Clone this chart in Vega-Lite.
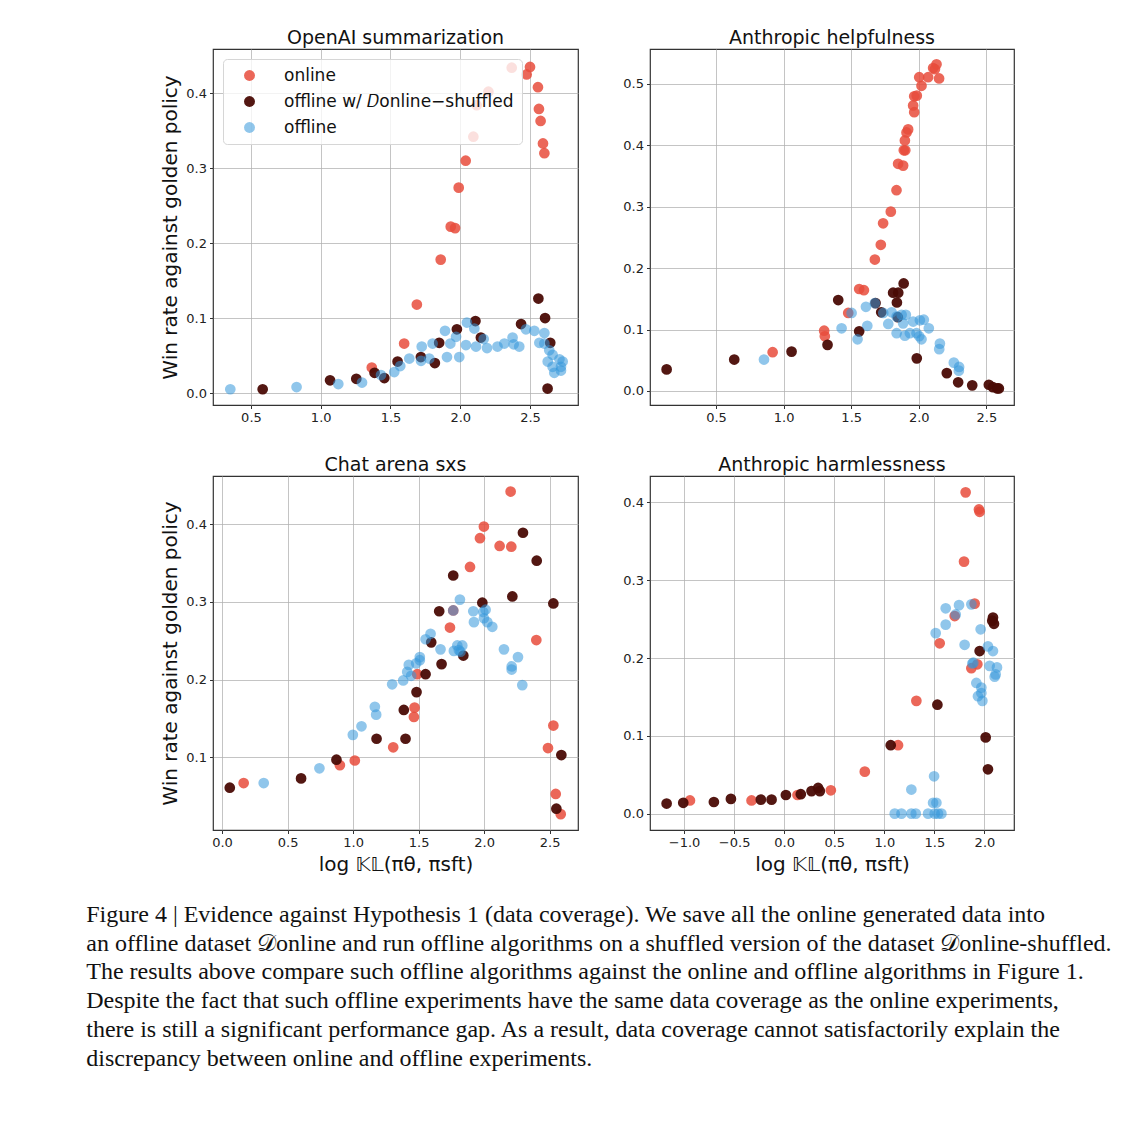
{
  "$schema": "https://vega.github.io/schema/vega-lite/v6.json",
  "background": "white",
  "padding": {"left": 86, "top": 28, "right": 5, "bottom": 5},
  "config": {
    "view": {"stroke": "#333333", "strokeWidth": 1.2},
    "axis": {
      "labelFont": "DejaVu Sans", "labelFontSize": 13, "labelColor": "#222222",
      "titleFont": "DejaVu Sans", "titleFontSize": 20, "titleFontWeight": "normal", "titleColor": "#111111",
      "grid": true, "gridColor": "#b0b0b0", "gridOpacity": 0.75, "gridWidth": 1,
      "domain": false, "tickColor": "#333333", "tickSize": 3.5, "labelPadding": 3, "titlePadding": 5
    },
    "title": {"font": "DejaVu Sans", "fontSize": 19, "fontWeight": "normal", "color": "#111111", "offset": 1},
    "legend": {"labelFont": "DejaVu Sans"}
  },
  "title": {
    "text": [
      "Figure 4 | Evidence against Hypothesis 1 (data coverage). We save all the online generated data into",
      "an offline dataset 𝒟online and run offline algorithms on a shuffled version of the dataset 𝒟online-shuffled.",
      "The results above compare such offline algorithms against the online and offline algorithms in Figure 1.",
      "Despite the fact that such offline experiments have the same data coverage as the online experiments,",
      "there is still a significant performance gap. As a result, data coverage cannot satisfactorily explain the",
      "discrepancy between online and offline experiments."
    ],
    "orient": "bottom", "anchor": "start", "frame": "bounds",
    "font": "Liberation Serif", "fontSize": 24, "fontWeight": "normal", "color": "#111111",
    "lineHeight": 28.7, "offset": 28, "dx": -74
  },
  "data": {"values": [
    {"p":1,"s":"online","x":1.366,"y":0.034},{"p":1,"s":"online","x":1.598,"y":0.066},{"p":1,"s":"online","x":1.689,"y":0.118},{"p":1,"s":"online","x":1.860,"y":0.178},{"p":1,"s":"online","x":1.932,"y":0.222},{"p":1,"s":"online","x":1.963,"y":0.220},{"p":1,"s":"online","x":1.989,"y":0.274},{"p":1,"s":"online","x":2.039,"y":0.310},{"p":1,"s":"online","x":2.094,"y":0.342},{"p":1,"s":"online","x":2.118,"y":0.384},{"p":1,"s":"online","x":2.202,"y":0.402},{"p":1,"s":"online","x":2.369,"y":0.434},{"p":1,"s":"online","x":2.476,"y":0.425},{"p":1,"s":"online","x":2.500,"y":0.435},{"p":1,"s":"online","x":2.557,"y":0.408},{"p":1,"s":"online","x":2.564,"y":0.379},{"p":1,"s":"online","x":2.576,"y":0.363},{"p":1,"s":"online","x":2.593,"y":0.333},{"p":1,"s":"online","x":2.603,"y":0.320},
    {"p":2,"s":"online","x":0.919,"y":0.063},{"p":2,"s":"online","x":1.300,"y":0.098},{"p":2,"s":"online","x":1.305,"y":0.089},{"p":2,"s":"online","x":1.478,"y":0.127},{"p":2,"s":"online","x":1.559,"y":0.166},{"p":2,"s":"online","x":1.594,"y":0.164},{"p":2,"s":"online","x":1.675,"y":0.214},{"p":2,"s":"online","x":1.719,"y":0.238},{"p":2,"s":"online","x":1.736,"y":0.273},{"p":2,"s":"online","x":1.793,"y":0.292},{"p":2,"s":"online","x":1.835,"y":0.327},{"p":2,"s":"online","x":1.847,"y":0.370},{"p":2,"s":"online","x":1.884,"y":0.367},{"p":2,"s":"online","x":1.889,"y":0.392},{"p":2,"s":"online","x":1.900,"y":0.392},{"p":2,"s":"online","x":1.897,"y":0.408},{"p":2,"s":"online","x":1.909,"y":0.421},{"p":2,"s":"online","x":1.921,"y":0.426},{"p":2,"s":"online","x":1.966,"y":0.454},{"p":2,"s":"online","x":1.958,"y":0.465},{"p":2,"s":"online","x":1.966,"y":0.480},{"p":2,"s":"online","x":1.985,"y":0.481},{"p":2,"s":"online","x":2.020,"y":0.497},{"p":2,"s":"online","x":2.003,"y":0.511},{"p":2,"s":"online","x":2.069,"y":0.511},{"p":2,"s":"online","x":2.106,"y":0.526},{"p":2,"s":"online","x":2.131,"y":0.532},{"p":2,"s":"online","x":2.119,"y":0.524},{"p":2,"s":"online","x":2.150,"y":0.509},
    {"p":3,"s":"online","x":0.165,"y":0.067},{"p":3,"s":"online","x":0.899,"y":0.090},{"p":3,"s":"online","x":1.013,"y":0.096},{"p":3,"s":"online","x":1.306,"y":0.113},{"p":3,"s":"online","x":1.464,"y":0.152},{"p":3,"s":"online","x":1.469,"y":0.164},{"p":3,"s":"online","x":1.489,"y":0.207},{"p":3,"s":"online","x":1.739,"y":0.267},{"p":3,"s":"online","x":1.764,"y":0.289},{"p":3,"s":"online","x":1.892,"y":0.345},{"p":3,"s":"online","x":1.968,"y":0.382},{"p":3,"s":"online","x":1.998,"y":0.397},{"p":3,"s":"online","x":2.118,"y":0.372},{"p":3,"s":"online","x":2.207,"y":0.371},{"p":3,"s":"online","x":2.202,"y":0.442},{"p":3,"s":"online","x":2.398,"y":0.251},{"p":3,"s":"online","x":2.528,"y":0.141},{"p":3,"s":"online","x":2.487,"y":0.112},{"p":3,"s":"online","x":2.546,"y":0.053},{"p":3,"s":"online","x":2.584,"y":0.027},
    {"p":4,"s":"online","x":-0.941,"y":0.017},{"p":4,"s":"online","x":-0.326,"y":0.017},{"p":4,"s":"online","x":0.133,"y":0.024},{"p":4,"s":"online","x":0.466,"y":0.030},{"p":4,"s":"online","x":0.805,"y":0.054},{"p":4,"s":"online","x":1.137,"y":0.088},{"p":4,"s":"online","x":1.320,"y":0.145},{"p":4,"s":"online","x":1.553,"y":0.219},{"p":4,"s":"online","x":1.703,"y":0.254},{"p":4,"s":"online","x":1.796,"y":0.324},{"p":4,"s":"online","x":1.812,"y":0.413},{"p":4,"s":"online","x":1.945,"y":0.391},{"p":4,"s":"online","x":1.952,"y":0.388},{"p":4,"s":"online","x":1.902,"y":0.270},{"p":4,"s":"online","x":1.869,"y":0.187},{"p":4,"s":"online","x":1.929,"y":0.192},
    {"p":1,"s":"shuffled","x":0.584,"y":0.005},{"p":1,"s":"shuffled","x":1.067,"y":0.017},{"p":1,"s":"shuffled","x":1.255,"y":0.019},{"p":1,"s":"shuffled","x":1.386,"y":0.027},{"p":1,"s":"shuffled","x":1.456,"y":0.020},{"p":1,"s":"shuffled","x":1.551,"y":0.042},{"p":1,"s":"shuffled","x":1.718,"y":0.048},{"p":1,"s":"shuffled","x":1.818,"y":0.040},{"p":1,"s":"shuffled","x":1.849,"y":0.067},{"p":1,"s":"shuffled","x":1.976,"y":0.085},{"p":1,"s":"shuffled","x":2.109,"y":0.096},{"p":1,"s":"shuffled","x":2.148,"y":0.074},{"p":1,"s":"shuffled","x":2.436,"y":0.092},{"p":1,"s":"shuffled","x":2.560,"y":0.126},{"p":1,"s":"shuffled","x":2.608,"y":0.100},{"p":1,"s":"shuffled","x":2.645,"y":0.067},{"p":1,"s":"shuffled","x":2.626,"y":0.006},
    {"p":2,"s":"shuffled","x":0.135,"y":0.035},{"p":2,"s":"shuffled","x":0.635,"y":0.051},{"p":2,"s":"shuffled","x":1.059,"y":0.064},{"p":2,"s":"shuffled","x":1.325,"y":0.075},{"p":2,"s":"shuffled","x":1.404,"y":0.148},{"p":2,"s":"shuffled","x":1.559,"y":0.097},{"p":2,"s":"shuffled","x":1.680,"y":0.143},{"p":2,"s":"shuffled","x":1.722,"y":0.128},{"p":2,"s":"shuffled","x":1.810,"y":0.160},{"p":2,"s":"shuffled","x":1.848,"y":0.160},{"p":2,"s":"shuffled","x":1.888,"y":0.175},{"p":2,"s":"shuffled","x":1.838,"y":0.144},{"p":2,"s":"shuffled","x":1.845,"y":0.120},{"p":2,"s":"shuffled","x":1.985,"y":0.053},{"p":2,"s":"shuffled","x":2.207,"y":0.029},{"p":2,"s":"shuffled","x":2.291,"y":0.014},{"p":2,"s":"shuffled","x":2.395,"y":0.009},{"p":2,"s":"shuffled","x":2.518,"y":0.010},{"p":2,"s":"shuffled","x":2.548,"y":0.006},{"p":2,"s":"shuffled","x":2.580,"y":0.004},{"p":2,"s":"shuffled","x":2.592,"y":0.004},
    {"p":3,"s":"shuffled","x":0.059,"y":0.061},{"p":3,"s":"shuffled","x":0.603,"y":0.073},{"p":3,"s":"shuffled","x":0.873,"y":0.097},{"p":3,"s":"shuffled","x":1.179,"y":0.124},{"p":3,"s":"shuffled","x":1.387,"y":0.161},{"p":3,"s":"shuffled","x":1.400,"y":0.124},{"p":3,"s":"shuffled","x":1.484,"y":0.184},{"p":3,"s":"shuffled","x":1.553,"y":0.207},{"p":3,"s":"shuffled","x":1.596,"y":0.248},{"p":3,"s":"shuffled","x":1.657,"y":0.288},{"p":3,"s":"shuffled","x":1.675,"y":0.220},{"p":3,"s":"shuffled","x":1.764,"y":0.334},{"p":3,"s":"shuffled","x":1.841,"y":0.231},{"p":3,"s":"shuffled","x":1.986,"y":0.299},{"p":3,"s":"shuffled","x":2.215,"y":0.307},{"p":3,"s":"shuffled","x":2.296,"y":0.389},{"p":3,"s":"shuffled","x":2.401,"y":0.353},{"p":3,"s":"shuffled","x":2.528,"y":0.298},{"p":3,"s":"shuffled","x":2.589,"y":0.103},{"p":3,"s":"shuffled","x":2.551,"y":0.034},
    {"p":4,"s":"shuffled","x":-1.174,"y":0.013},{"p":4,"s":"shuffled","x":-1.008,"y":0.014},{"p":4,"s":"shuffled","x":-0.702,"y":0.015},{"p":4,"s":"shuffled","x":-0.532,"y":0.019},{"p":4,"s":"shuffled","x":-0.233,"y":0.018},{"p":4,"s":"shuffled","x":-0.126,"y":0.018},{"p":4,"s":"shuffled","x":0.017,"y":0.024},{"p":4,"s":"shuffled","x":0.166,"y":0.025},{"p":4,"s":"shuffled","x":0.273,"y":0.029},{"p":4,"s":"shuffled","x":0.339,"y":0.033},{"p":4,"s":"shuffled","x":0.356,"y":0.029},{"p":4,"s":"shuffled","x":1.064,"y":0.088},{"p":4,"s":"shuffled","x":1.530,"y":0.140},{"p":4,"s":"shuffled","x":1.952,"y":0.209},{"p":4,"s":"shuffled","x":2.085,"y":0.252},{"p":4,"s":"shuffled","x":2.095,"y":0.244},{"p":4,"s":"shuffled","x":2.078,"y":0.248},{"p":4,"s":"shuffled","x":2.012,"y":0.098},{"p":4,"s":"shuffled","x":2.035,"y":0.057},
    {"p":1,"s":"offline","x":0.352,"y":0.005},{"p":1,"s":"offline","x":0.827,"y":0.008},{"p":1,"s":"offline","x":1.126,"y":0.012},{"p":1,"s":"offline","x":1.296,"y":0.014},{"p":1,"s":"offline","x":1.432,"y":0.024},{"p":1,"s":"offline","x":1.527,"y":0.028},{"p":1,"s":"offline","x":1.570,"y":0.036},{"p":1,"s":"offline","x":1.635,"y":0.046},{"p":1,"s":"offline","x":1.719,"y":0.043},{"p":1,"s":"offline","x":1.724,"y":0.062},{"p":1,"s":"offline","x":1.778,"y":0.046},{"p":1,"s":"offline","x":1.802,"y":0.066},{"p":1,"s":"offline","x":1.891,"y":0.083},{"p":1,"s":"offline","x":1.929,"y":0.066},{"p":1,"s":"offline","x":1.905,"y":0.048},{"p":1,"s":"offline","x":1.993,"y":0.048},{"p":1,"s":"offline","x":1.970,"y":0.075},{"p":1,"s":"offline","x":2.048,"y":0.094},{"p":1,"s":"offline","x":2.101,"y":0.086},{"p":1,"s":"offline","x":2.041,"y":0.064},{"p":1,"s":"offline","x":2.113,"y":0.062},{"p":1,"s":"offline","x":2.168,"y":0.072},{"p":1,"s":"offline","x":2.192,"y":0.060},{"p":1,"s":"offline","x":2.267,"y":0.062},{"p":1,"s":"offline","x":2.316,"y":0.066},{"p":1,"s":"offline","x":2.375,"y":0.074},{"p":1,"s":"offline","x":2.383,"y":0.065},{"p":1,"s":"offline","x":2.423,"y":0.062},{"p":1,"s":"offline","x":2.471,"y":0.085},{"p":1,"s":"offline","x":2.531,"y":0.083},{"p":1,"s":"offline","x":2.603,"y":0.080},{"p":1,"s":"offline","x":2.567,"y":0.067},{"p":1,"s":"offline","x":2.603,"y":0.066},{"p":1,"s":"offline","x":2.638,"y":0.057},{"p":1,"s":"offline","x":2.662,"y":0.051},{"p":1,"s":"offline","x":2.627,"y":0.042},{"p":1,"s":"offline","x":2.711,"y":0.045},{"p":1,"s":"offline","x":2.662,"y":0.035},{"p":1,"s":"offline","x":2.722,"y":0.035},{"p":1,"s":"offline","x":2.734,"y":0.042},{"p":1,"s":"offline","x":2.674,"y":0.027},{"p":1,"s":"offline","x":2.722,"y":0.030},
    {"p":2,"s":"offline","x":0.855,"y":0.051},{"p":2,"s":"offline","x":1.429,"y":0.102},{"p":2,"s":"offline","x":1.503,"y":0.127},{"p":2,"s":"offline","x":1.547,"y":0.084},{"p":2,"s":"offline","x":1.609,"y":0.137},{"p":2,"s":"offline","x":1.619,"y":0.106},{"p":2,"s":"offline","x":1.675,"y":0.143},{"p":2,"s":"offline","x":1.737,"y":0.127},{"p":2,"s":"offline","x":1.774,"y":0.109},{"p":2,"s":"offline","x":1.799,"y":0.128},{"p":2,"s":"offline","x":1.836,"y":0.121},{"p":2,"s":"offline","x":1.873,"y":0.124},{"p":2,"s":"offline","x":1.904,"y":0.124},{"p":2,"s":"offline","x":1.836,"y":0.094},{"p":2,"s":"offline","x":1.897,"y":0.090},{"p":2,"s":"offline","x":1.934,"y":0.094},{"p":2,"s":"offline","x":1.958,"y":0.113},{"p":2,"s":"offline","x":1.983,"y":0.094},{"p":2,"s":"offline","x":2.008,"y":0.115},{"p":2,"s":"offline","x":2.020,"y":0.084},{"p":2,"s":"offline","x":2.037,"y":0.116},{"p":2,"s":"offline","x":2.074,"y":0.102},{"p":2,"s":"offline","x":2.003,"y":0.089},{"p":2,"s":"offline","x":1.884,"y":0.110},{"p":2,"s":"offline","x":2.156,"y":0.077},{"p":2,"s":"offline","x":2.151,"y":0.068},{"p":2,"s":"offline","x":2.259,"y":0.046},{"p":2,"s":"offline","x":2.298,"y":0.039},{"p":2,"s":"offline","x":2.296,"y":0.033},
    {"p":3,"s":"offline","x":0.318,"y":0.067},{"p":3,"s":"offline","x":0.743,"y":0.086},{"p":3,"s":"offline","x":0.998,"y":0.129},{"p":3,"s":"offline","x":1.064,"y":0.140},{"p":3,"s":"offline","x":1.166,"y":0.165},{"p":3,"s":"offline","x":1.176,"y":0.155},{"p":3,"s":"offline","x":1.298,"y":0.194},{"p":3,"s":"offline","x":1.382,"y":0.199},{"p":3,"s":"offline","x":1.413,"y":0.210},{"p":3,"s":"offline","x":1.425,"y":0.219},{"p":3,"s":"offline","x":1.443,"y":0.205},{"p":3,"s":"offline","x":1.481,"y":0.221},{"p":3,"s":"offline","x":1.509,"y":0.229},{"p":3,"s":"offline","x":1.509,"y":0.225},{"p":3,"s":"offline","x":1.553,"y":0.252},{"p":3,"s":"offline","x":1.591,"y":0.259},{"p":3,"s":"offline","x":1.667,"y":0.239},{"p":3,"s":"offline","x":1.764,"y":0.289},{"p":3,"s":"offline","x":1.769,"y":0.237},{"p":3,"s":"offline","x":1.795,"y":0.244},{"p":3,"s":"offline","x":1.807,"y":0.238},{"p":3,"s":"offline","x":1.820,"y":0.236},{"p":3,"s":"offline","x":1.833,"y":0.244},{"p":3,"s":"offline","x":1.815,"y":0.303},{"p":3,"s":"offline","x":1.917,"y":0.288},{"p":3,"s":"offline","x":1.922,"y":0.274},{"p":3,"s":"offline","x":1.993,"y":0.287},{"p":3,"s":"offline","x":1.998,"y":0.279},{"p":3,"s":"offline","x":2.011,"y":0.290},{"p":3,"s":"offline","x":2.024,"y":0.274},{"p":3,"s":"offline","x":2.062,"y":0.268},{"p":3,"s":"offline","x":2.151,"y":0.239},{"p":3,"s":"offline","x":2.210,"y":0.217},{"p":3,"s":"offline","x":2.210,"y":0.213},{"p":3,"s":"offline","x":2.258,"y":0.229},{"p":3,"s":"offline","x":2.291,"y":0.193},
    {"p":4,"s":"offline","x":1.104,"y":0.0},{"p":4,"s":"offline","x":1.171,"y":0.0},{"p":4,"s":"offline","x":1.270,"y":0.0},{"p":4,"s":"offline","x":1.314,"y":0.0},{"p":4,"s":"offline","x":1.437,"y":0.0},{"p":4,"s":"offline","x":1.503,"y":0.0},{"p":4,"s":"offline","x":1.536,"y":0.0},{"p":4,"s":"offline","x":1.570,"y":0.0},{"p":4,"s":"offline","x":1.487,"y":0.014},{"p":4,"s":"offline","x":1.520,"y":0.014},{"p":4,"s":"offline","x":1.270,"y":0.031},{"p":4,"s":"offline","x":1.497,"y":0.048},{"p":4,"s":"offline","x":1.513,"y":0.232},{"p":4,"s":"offline","x":1.613,"y":0.243},{"p":4,"s":"offline","x":1.613,"y":0.264},{"p":4,"s":"offline","x":1.746,"y":0.268},{"p":4,"s":"offline","x":1.713,"y":0.256},{"p":4,"s":"offline","x":1.869,"y":0.269},{"p":4,"s":"offline","x":1.802,"y":0.217},{"p":4,"s":"offline","x":1.962,"y":0.237},{"p":4,"s":"offline","x":2.035,"y":0.215},{"p":4,"s":"offline","x":2.085,"y":0.209},{"p":4,"s":"offline","x":1.879,"y":0.193},{"p":4,"s":"offline","x":2.052,"y":0.190},{"p":4,"s":"offline","x":2.112,"y":0.179},{"p":4,"s":"offline","x":2.125,"y":0.188},{"p":4,"s":"offline","x":2.102,"y":0.176},{"p":4,"s":"offline","x":1.919,"y":0.168},{"p":4,"s":"offline","x":1.969,"y":0.162},{"p":4,"s":"offline","x":1.969,"y":0.155},{"p":4,"s":"offline","x":1.935,"y":0.151},{"p":4,"s":"offline","x":1.979,"y":0.145},{"p":4,"s":"offline","x":1.889,"y":0.194}
  ]},
  "resolve": {"scale": {"color": "independent"}, "legend": {"color": "independent"}},
  "spacing": 29,
  "vconcat": [
    {
      "spacing": 43,
      "resolve": {"scale": {"color": "independent"}, "legend": {"color": "independent"}},
      "hconcat": [
        {
          "width": 365, "height": 356,
          "title": "OpenAI summarization",
          "transform": [{"filter": "datum.p == 1"}],
          "mark": {"type": "circle", "size": 115, "opacity": 1},
          "encoding": {
            "x": {"field": "x", "type": "quantitative", "scale": {"domain": [0.228, 2.844], "nice": false, "zero": false}, "axis": {"values": [0.5, 1, 1.5, 2, 2.5], "format": ".1f", "title": null}},
            "y": {"field": "y", "type": "quantitative", "scale": {"domain": [-0.016, 0.459], "nice": false, "zero": false}, "axis": {"values": [0, 0.1, 0.2, 0.3, 0.4], "format": ".1f", "title": "Win rate against golden policy"}},
            "color": {"field": "s", "type": "nominal", "scale": {"domain": ["online", "shuffled", "offline"], "range": ["rgba(231,76,60,0.85)", "rgba(74,11,5,0.95)", "rgba(52,152,219,0.55)"]},
              "legend": {"title": null, "orient": "top-left", "offset": 10, "padding": 8, "fillColor": "rgba(255,255,255,0.8)", "strokeColor": "#d6d6d6", "cornerRadius": 4, "labelFontSize": 17, "labelColor": "#111111", "labelLimit": 400, "symbolSize": 120, "rowPadding": 8, "labelOffset": 26, "symbolOffset": 10,
                "labelExpr": "datum.value == 'shuffled' ? 'offline w/ 𝐷online−shuffled' : datum.value"}}
          }
        },
        {
          "width": 364, "height": 356,
          "title": "Anthropic helpfulness",
          "transform": [{"filter": "datum.p == 2"}],
          "mark": {"type": "circle", "size": 115, "opacity": 1},
          "encoding": {
            "x": {"field": "x", "type": "quantitative", "scale": {"domain": [0.012, 2.704], "nice": false, "zero": false}, "axis": {"values": [0.5, 1, 1.5, 2, 2.5], "format": ".1f", "title": null}},
            "y": {"field": "y", "type": "quantitative", "scale": {"domain": [-0.023, 0.557], "nice": false, "zero": false}, "axis": {"values": [0, 0.1, 0.2, 0.3, 0.4, 0.5], "format": ".1f", "title": null}},
            "color": {"field": "s", "type": "nominal", "scale": {"domain": ["online", "shuffled", "offline"], "range": ["rgba(231,76,60,0.85)", "rgba(74,11,5,0.95)", "rgba(52,152,219,0.55)"]}, "legend": null}
          }
        }
      ]
    },
    {
      "spacing": 43,
      "resolve": {"scale": {"color": "independent"}, "legend": {"color": "independent"}},
      "hconcat": [
        {
          "width": 365, "height": 354,
          "title": "Chat arena sxs",
          "transform": [{"filter": "datum.p == 3"}],
          "mark": {"type": "circle", "size": 115, "opacity": 1},
          "encoding": {
            "x": {"field": "x", "type": "quantitative", "scale": {"domain": [-0.069, 2.716], "nice": false, "zero": false}, "axis": {"values": [0, 0.5, 1, 1.5, 2, 2.5], "format": ".1f", "title": "log 𝕂𝕃(πθ, πsft)"}},
            "y": {"field": "y", "type": "quantitative", "scale": {"domain": [0.0066, 0.462], "nice": false, "zero": false}, "axis": {"values": [0.1, 0.2, 0.3, 0.4], "format": ".1f", "title": "Win rate against golden policy"}},
            "color": {"field": "s", "type": "nominal", "scale": {"domain": ["online", "shuffled", "offline"], "range": ["rgba(231,76,60,0.85)", "rgba(74,11,5,0.95)", "rgba(52,152,219,0.55)"]}, "legend": null}
          }
        },
        {
          "width": 364, "height": 354,
          "title": "Anthropic harmlessness",
          "transform": [{"filter": "datum.p == 4"}],
          "mark": {"type": "circle", "size": 115, "opacity": 1},
          "encoding": {
            "x": {"field": "x", "type": "quantitative", "scale": {"domain": [-1.34, 2.295], "nice": false, "zero": false}, "axis": {"values": [-1, -0.5, 0, 0.5, 1, 1.5, 2], "format": ".1f", "title": "log 𝕂𝕃(πθ, πsft)"}},
            "y": {"field": "y", "type": "quantitative", "scale": {"domain": [-0.021, 0.434], "nice": false, "zero": false}, "axis": {"values": [0, 0.1, 0.2, 0.3, 0.4], "format": ".1f", "title": null}},
            "color": {"field": "s", "type": "nominal", "scale": {"domain": ["online", "shuffled", "offline"], "range": ["rgba(231,76,60,0.85)", "rgba(74,11,5,0.95)", "rgba(52,152,219,0.55)"]}, "legend": null}
          }
        }
      ]
    }
  ]
}
